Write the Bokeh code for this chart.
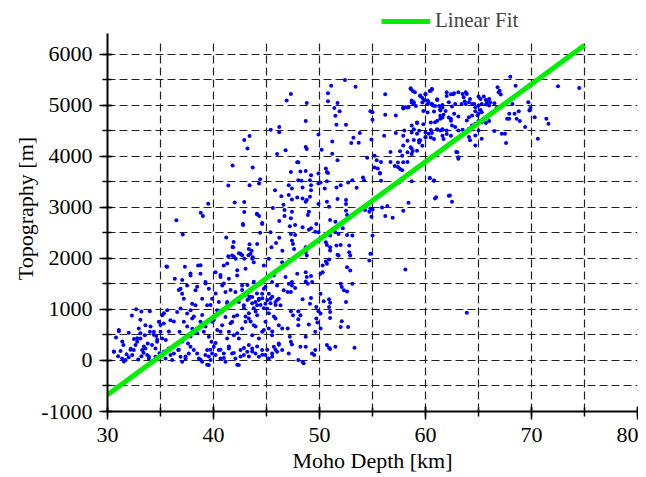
from bokeh.plotting import figure
from bokeh.models import (SingleIntervalTicker, FixedTicker, Legend, LegendItem, Range1d,
                          ColumnDataSource, PrintfTickFormatter)
from bokeh.embed import file_html
from bokeh.resources import INLINE

# ---- data (Moho depth [km], topography [m]) ----
shallow_moho = [
    (30.6,170),(30.6,175),(30.8,450),(31.0,80),(31.07,573),(31.07,598),(31.23,183),(31.38,40),(31.39,371),
    (31.5,300),(31.55,-19),(31.7,10),(31.8,120),(32.0,60),(32.01,540),(32.17,209),(32.2,230),(32.3,880),
    (32.33,105),(32.48,202),(32.5,420),(32.64,300),(32.7,1000),(32.8,365),(32.8,436),(32.9,20),(32.95,625),
    (33.1,533),(33.11,430),(33.1,795),(33.2,80),(33.2,960),(33.27,202),(33.4,150),(33.43,274),(33.52,495),
    (33.58,235),(33.58,690),(33.74,105),(33.8,330),(33.9,40),(33.9,79),(33.99,963),(34.0,560),(34.06,663),
    (34.2,300),(34.21,-25),(34.37,501),(34.37,560),(34.53,72),(34.53,235),(34.6,480),(34.68,365),(34.69,404),
    (34.84,755),(34.9,140),
    (35.0,560),(35.0,696),(35.16,885),(35.16,430),(35.31,170),(35.31,722),(35.32,924),(35.47,40),(35.5,400),
    (35.56,1840),(35.63,1833),(35.63,982),(35.78,235),(35.79,566),(35.94,787),(35.94,105),(36.1,7),(36.26,137),
    (36.26,761),(36.35,1599),(36.41,300),(36.5,2743),(36.57,950),(36.67,202),(36.73,209),(36.73,1378),(36.8,560),
    (36.89,72),(36.89,1015),(36.89,1404),(37.04,-25),(37.05,371),(37.05,1573),(37.04,1307),(37.1,2464),(37.2,755),
    (37.2,1209),(37.3,1832),(37.36,40),(37.36,79),(37.51,917),(37.51,1469),(37.52,663),(37.6,330),(37.67,137),
    (37.83,267),(37.83,469),(37.83,982),(37.83,1664),(37.83,1703),(37.99,820),(37.99,1112),(38.0,620),(38.14,202),
    (38.15,858),(38.3,1080),(38.3,1372),(38.46,137),(38.46,533),(38.46,625),(38.46,1443),(38.55,1859),(38.62,40),
    (38.77,755),(38.77,1697),(38.78,14),(38.78,1866),(38.8,2893),(38.93,-25),(38.93,891),(38.93,1209),(39.0,2826),
    (39.09,560),(39.24,105),(39.24,1534),(39.25,663),(39.25,1508),(39.4,-84),(39.4,202),(39.4,1080),(39.5,3068),
    (39.56,79),(39.56,462),(39.56,1404),(39.56,-90),(39.7,209),(39.72,7),(39.72,1086),(39.81,365),(39.87,137),
    (39.87,755),(39.87,1209),
]

mid_moho_low = [
    (40.03,267),(40.03,793),(40.19,105),(40.19,885),(40.19,1729),(40.2,339),(40.2,1313),(40.34,982),(40.35,598),
    (40.5,202),(40.5,1144),(40.66,40),(40.66,209),(40.66,560),(40.66,1632),(40.66,1671),(40.82,690),(40.82,956),
    (40.82,1469),(40.97,137),(40.97,1859),(40.98,46),(40.98,1508),(41.13,-25),(41.13,852),(41.13,1339),(41.2,2405),
    (41.29,430),(41.29,1144),(41.3,1118),(41.3,1898),(41.45,235),(41.45,274),(41.45,560),(41.45,1599),(41.4,2041),
    (41.61,729),(41.61,1378),(41.76,137),(41.76,755),(41.76,2054),(41.8,2222),(41.9,2320),(41.92,144),(41.92,495),
    (41.92,858),(41.92,2028),(41.85,2217),(42.07,40),(42.07,1339),(42.1,1990),(42.23,885),(42.23,1664),(42.24,-84),
    (42.24,533),(42.24,1768),(42.39,-90),(42.39,430),(42.39,1144),(42.4,2100),(42.55,79),(42.55,202),(42.55,2087),
    (42.7,625),(42.7,1378),(42.7,1469),(42.7,2060),(42.77,2672),(42.8,2651),(42.86,105),(42.86,1080),(42.87,241),
    (42.87,1021),(42.9,1990),(43.0,1281),(43.02,755),(43.02,858),(43.02,1794),(43.18,170),(43.18,1307),(43.2,1183),
    (43.2,1476),(43.3,2060),(43.33,300),(43.33,820),(43.33,1209),(43.33,2184),(43.34,79),(43.34,924),(43.4,1248),
    (43.4,2275),(43.49,2087),(43.5,761),(43.6,2150),(43.65,176),(43.65,235),(43.65,495),(43.65,1118),(43.65,1242),
    (43.65,1989),(43.7,2020),(43.8,690),(43.8,1021),(43.8,1541),(43.8,1924),(43.96,137),(43.96,1144),(43.97,663),
    (43.97,956),(44.1,1313),(44.12,274),(44.12,885),(44.12,1080),(44.12,2282),(44.28,72),(44.28,430),(44.28,1183),
    (44.28,1209),(44.4,2500),(44.44,1086),(44.44,1508),(44.59,202),(44.59,560),(44.59,1307),(44.59,2672),(44.6,111),
    (44.6,1216),(44.6,2690),(44.75,598),(44.75,1021),(44.75,1404),(44.75,1859),(44.9,105),(44.9,755),(44.9,1112),
    (44.9,1443),(45.06,1015),(45.07,209),(45.07,1183),(45.22,40),(45.22,625),(45.22,924),(45.22,1307),(45.22,1989),
    (45.38,1118),(45.38,1209),(45.38,2509),(45.47,2217),(45.53,137),(45.53,495),(45.53,1534),(45.54,79),(45.54,566),
    (45.54,1248),(45.69,267),(45.69,1664),(45.7,858),(45.85,209),(45.85,820),(45.85,1086),(45.85,1144),(45.9,2300),
    (46.0,170),(46.0,1183),(46.0,1469),(46.16,332),(46.16,690),(46.16,1209),(46.17,306),(46.2,2400),(46.32,1080),
    (46.48,202),(46.48,625),(46.48,1924),(46.5,2150),(46.63,1372),
]

mid_moho_high = [
    (41.4,3425),(41.8,3815),(42.0,3094),(42.9,3100),(42.9,2905),(42.9,4316),(43.2,4152),(43.4,4394),(43.4,3431),
    (43.7,3776),(44.1,2873),(44.3,2826),(44.3,3464),(44.4,3548),(45.4,4516),(45.6,2983),(45.8,3333),(46.0,4042),
    (46.2,4569),(46.2,4470),(46.2,2730),(46.4,3216),(46.6,3049),(46.7,2944),(46.7,2826),(44.1,2860),
]

central_moho = [
    (47.2,2626),(47.7,2652),(48.4,2606),(49.0,2561),(49.2,2587),(49.6,2522),(49.7,2672),(47.3,2477),(47.7,2457),
    (48.7,2119),(48.8,2054),(48.7,2217),(47.4,2347),(47.5,2282),(47.6,2184),(49.9,2509),(49.9,2347),(50.6,2314),
    (50.7,2262),(51.0,2444),(51.5,2509),(51.8,2477),(52.2,2587),(52.6,2457),(53.1,2444),(51.0,2217),(51.0,2152),
    (51.6,2249),(52.0,2262),(52.8,2249),(52.8,2119),(52.9,2054),(51.7,2067),(51.8,2054),(50.6,1937),(50.7,1892),
    (50.9,1976),(50.3,1859),(50.3,1729),(50.1,1697),(47.9,1697),(48.7,1729),(48.8,1632),(49.2,1651),(49.3,1534),
    (48.9,1502),(48.7,1547),(52.6,1827),(52.9,1762),(46.8,1632),(47.1,1502),(47.4,1469),(47.7,1417),(47.3,1339),
    (47.0,1339),(47.4,1534),(52.0,1502),(52.1,1437),(52.3,1372),(52.6,1352),(53.1,1502),(50.1,1307),(50.4,1157),
    (50.9,1196),(51.0,1131),(52.5,1144),(48.4,1196),(49.1,1112),(49.2,1222),(49.7,1047),(49.9,963),(50.1,917),
    (50.9,1047),(51.0,950),(51.0,833),(47.3,963),(47.5,885),(48.0,963),(48.2,885),(48.0,807),(49.7,820),(49.8,742),
    (50.1,625),(47.0,625),(47.2,462),(47.3,365),(48.0,690),(49.0,703),(49.6,560),(48.7,462),(52.1,768),(52.7,657),
    (52.0,657),(47.1,137),(47.4,313),(48.2,268),(48.7,268),(49.3,137),(49.6,202),(49.5,105),(48.0,7),(48.4,-25),
    (48.5,-57),(50.7,300),(50.9,248),(51.0,222),(51.5,268),(53.3,248),(54.8,2087),(54.7,1957),(55.0,2444),
    (58.1,1781),(63.9,935),
]

deep_moho_a = [
    (52.4,5491),(51.1,5381),(53.4,5361),(47.3,5218),(50.8,5231),(46.9,5088),(50.8,5075),(51.7,5043),(51.9,4880),
    (48.8,5043),(56.2,5212),(58.6,5316),(59.0,5251),(59.5,5186),(59.7,5140),(58.7,5088),(58.9,5056),(60.0,5218),
    (60.5,5283),(60.6,5316),(60.2,5088),(60.6,5023),(60.7,4991),(61.1,5101),(61.4,4893),(61.6,5004),(62.0,5251),
    (62.7,5231),(63.1,5251),(63.5,5218),(63.6,5153),(63.7,5069),(63.4,5023),(62.8,5023),(62.5,4971),(62.2,5056),
    (62.7,4829),(63.1,4777),(62.4,4731),(58.1,4958),(58.4,4958),(57.9,4932),(54.8,4880),(55.0,4861),(55.0,4712),
    (51.4,4945),(51.5,4790),(48.7,4686),(51.6,4614),(52.5,4614),(56.2,4809),(57.2,4796),(58.7,4601),(59.2,4647),
    (60.9,4666),(61.4,4731),(61.6,4517),(62.0,4504),(62.5,4601),(62.8,4569),(63.1,4504),(63.5,4517),(58.0,4504),
    (58.7,4465),(59.2,4439),(59.5,4309),(60.0,4374),(60.3,4439),(60.6,4452),(61.1,4517),(61.4,4504),(49.9,4426),
    (53.8,4452),(53.2,4361),(53.7,4263),(53.0,4257),(54.9,4328),(56.1,4400),(57.2,4452),(51.2,4289),(48.7,4179),
    (48.8,4140),(46.8,4114),(50.2,4127),(57.9,4211),(58.7,4146),(58.8,4101),(59.4,4309),(56.7,4082),(57.6,4095),
    (51.2,4049),(51.7,3919),(54.5,3971),(55.2,4010),(55.4,3919),(55.8,3887),(56.7,3887),(57.4,3874),(58.3,3887),
    (62.9,4082),(63.1,3951),(47.9,3880),(48.0,3880),(50.6,3756),(50.8,3672),(55.2,3776),(55.5,3756),(55.7,3672),
    (57.1,3808),(57.4,3789),(57.8,3724),(47.3,3691),(48.2,3698),(48.7,3711),(49.2,3627),(49.9,3659),(50.7,3691),
    (48.0,3529),(48.3,3516),(49.1,3529),(50.1,3484),(50.7,3510),(52.7,3484),(53.1,3529),(54.1,3581),(54.2,3529),
    (55.7,3659),(55.8,3516),(57.5,3484),(58.7,3510),(60.4,3568),(60.8,3516),(47.1,3432),(47.4,3366),(48.4,3386),
    (49.2,3432),(49.9,3464),(49.2,3334),(49.1,3204),(48.8,3139),(50.5,3366),(51.6,3386),(52.0,3432),(53.5,3380),
    (47.1,3237),(47.4,3152),(47.9,3191),(48.4,3172),(48.7,3107),(50.7,3107),(50.9,3009),(51.7,3159),(52.5,3139),
    (52.5,3061),(54.3,3029),(54.8,2977),(55.0,2957),(55.9,2996),(56.4,3022),(57.9,2931),(58.4,3087),(60.9,3172),
    (62.2,3224),(62.5,3107),(49.9,3061),(47.4,2912),(47.3,2782),(49.0,2912),(48.9,2847),(51.0,2749),(51.5,2717),
    (54.3,2944),(54.7,2912),(54.9,2814),(56.2,2827),(56.9,2795),(52.5,2931),(52.6,2847),
]

deep_moho_b = [
    (58.6,5328),(58.8,5276),(59.5,5179),(60.0,5211),(60.4,5276),(60.6,5309),(58.9,5016),(58.7,5049),(58.3,4951),
    (57.9,4951),(59.1,4984),(59.7,5049),(59.9,5094),(60.2,5016),(60.3,5049),(60.6,5016),(60.9,4984),(61.1,5114),
    (61.3,4984),(61.4,4919),(61.6,4951),(61.9,4886),(62.0,5179),(62.4,5211),(62.6,5211),(59.8,4886),(60.2,4854),
    (60.8,4873),(61.4,4789),(61.7,4809),(62.2,4756),(62.4,4691),(59.2,4659),(59.8,4626),(60.5,4659),(61.1,4691),
    (61.6,4756),(58.9,4529),(59.4,4497),(60.0,4464),(60.5,4510),(61.1,4529),(61.6,4529),(62.0,4432),(62.4,4399),
    (57.9,4399),(58.3,4302),(58.9,4315),(59.4,4269),(59.7,4204),(60.0,4367),(60.5,4367),(60.8,4334),(61.7,4334),
    (61.6,4399),(58.6,4172),(58.3,4074),(58.7,4042),(57.8,4009),(57.9,3879),(57.6,3749),(59.2,4107),(63.0,4074),
    (63.1,3977),(60.4,3574),(60.8,3522),(61.0,3197),(62.3,3229),
]

deep_moho_c = [
    (68.0,5556),(66.8,5348),(66.9,5251),(67.1,5205),(67.0,5283),(68.5,5381),(69.7,5361),(72.5,5368),(74.5,5335),
    (63.8,5251),(63.9,5218),(64.2,5121),(64.1,5056),(63.8,5023),(64.4,5023),(65.0,5166),(65.2,5121),(65.5,5166),
    (65.7,5101),(65.8,5056),(66.0,5121),(66.1,5056),(66.0,4991),(65.7,5011),(65.3,5023),(65.0,4991),(64.7,4958),
    (64.6,5023),(66.5,5036),(66.7,4945),(66.4,4861),(68.2,5023),(69.7,5056),(69.9,4945),(69.8,4893),(64.7,4880),
    (65.0,4829),(65.3,4861),(65.2,4906),(64.9,4796),(64.4,4796),(64.1,4764),(63.9,4699),(65.5,4731),(65.8,4764),
    (66.0,4686),(65.7,4647),(65.3,4666),(65.0,4686),(64.7,4634),(64.4,4601),(64.1,4536),(67.9,4829),(68.4,4829),
    (68.8,4880),(68.6,4731),(68.9,4686),(67.9,4731),(67.7,4731),(69.4,4569),(70.3,4764),(71.4,4731),(71.6,4634),
    (66.5,4491),(65.0,4504),(64.7,4406),(65.3,4341),(64.1,4374),(64.2,4309),(64.7,4211),(67.2,4439),(67.5,4439),
    (67.6,4257),(70.6,4341),
]

fit_depth = [30, 75]
fit_topo = [-670, 6170]

x_grid_ticks = [35, 40, 45, 50, 55, 60, 65, 70, 75]
y_grid_ticks = [-500, 0, 500, 1000, 1500, 2000, 2500, 3000, 3500, 4000, 4500, 5000, 5500, 6000]
y_axis_bounds = (-1000, 6400)
x_grid_top = 6250

all_points = shallow_moho + mid_moho_low + mid_moho_high + central_moho + deep_moho_a + deep_moho_b + deep_moho_c
src = ColumnDataSource(data=dict(depth=[pt[0] for pt in all_points], topo=[pt[1] for pt in all_points]))

FONT = "Liberation Serif"
GRID_COLOR = "#222222"
GRID_DASH = "8 4"

p = figure(width=638, height=477, x_range=Range1d(30, 80), y_range=Range1d(-1000, 6950),
           output_backend="svg", toolbar_location=None,
           min_border_left=107, min_border_right=1, min_border_top=5, min_border_bottom=66)
p.outline_line_color = None
p.background_fill_color = "white"

# horizontal grid from the tick list; vertical grid lines stop below the legend band
p.xgrid.visible = False
p.ygrid.ticker = FixedTicker(ticks=y_grid_ticks)
p.ygrid.grid_line_color = GRID_COLOR
p.ygrid.grid_line_dash = GRID_DASH
p.ygrid.grid_line_width = 1.2
p.segment(x0=x_grid_ticks, y0=[y_axis_bounds[0]] * len(x_grid_ticks),
          x1=x_grid_ticks, y1=[x_grid_top] * len(x_grid_ticks),
          line_color=GRID_COLOR, line_dash=GRID_DASH, line_width=1.2, level="underlay")

p.scatter("depth", "topo", source=src, size=4, color="#0000ff", line_color=None)
fit = p.line(fit_depth, fit_topo, line_width=5, color="#00ee00")

p.xaxis.ticker = SingleIntervalTicker(interval=10, num_minor_ticks=2)
p.yaxis.ticker = SingleIntervalTicker(interval=1000, num_minor_ticks=2)
p.yaxis.bounds = y_axis_bounds
p.yaxis.formatter = PrintfTickFormatter(format="%d")
for ax in (p.xaxis, p.yaxis):
    ax.axis_line_width = 2
    ax.axis_line_color = "black"
    ax.major_tick_line_color = "black"
    ax.minor_tick_line_color = "black"
    ax.major_tick_line_width = 1.5
    ax.minor_tick_line_width = 1.5
    ax.major_tick_in = 5
    ax.major_tick_out = 8
    ax.minor_tick_in = 4
    ax.minor_tick_out = 5
    ax.major_label_text_font = FONT
    ax.major_label_text_font_size = "22px"
    ax.major_label_text_color = "black"
    ax.axis_label_text_font = FONT
    ax.axis_label_text_font_size = "22px"
    ax.axis_label_text_font_style = "normal"
    ax.axis_label_text_color = "black"
p.xaxis.axis_label = "Moho Depth [km]"
p.yaxis.axis_label = "Topography [m]"
p.xaxis.major_label_standoff = 8
p.yaxis.major_label_standoff = 7
p.xaxis.axis_label_standoff = 3
p.yaxis.axis_label_standoff = 0

legend = Legend(items=[LegendItem(label="Linear Fit", renderers=[fit])],
                location=(274, 378), padding=0, margin=0, border_line_color=None,
                background_fill_alpha=0, glyph_width=49, glyph_height=24, label_height=24,
                label_standoff=5, label_text_font=FONT, label_text_font_size="21px")
p.add_layout(legend)

open("out.html", "w").write(file_html(p, INLINE))
